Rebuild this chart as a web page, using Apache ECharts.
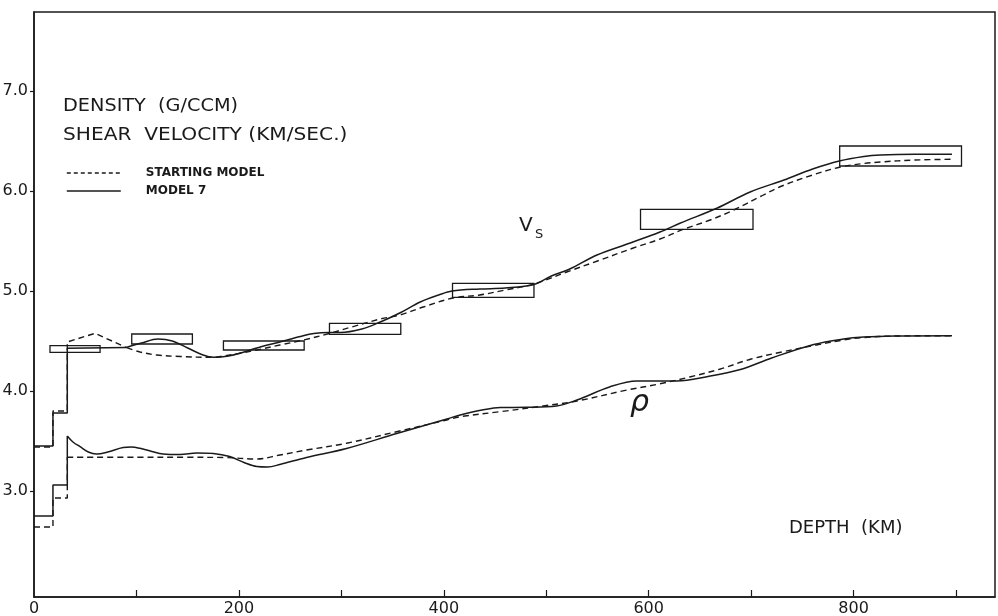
<!DOCTYPE html>
<html>
<head>
<meta charset="utf-8">
<script src="https://cdn.jsdelivr.net/npm/echarts@6/dist/echarts.min.js"></script>
<style>
html,body{margin:0;padding:0;background:#fff;}
#chart{width:998px;height:616px;}
</style>
</head>
<body>
<div id="chart"></div>
<script>
// ---- data (depth km, value) ----
const xTickValues = [100, 200, 300, 400, 500, 600, 700, 800, 900];
const xLabelValues = [0, 200, 400, 600, 800];
const yTickValues = [3, 4, 5, 6, 7];

// Shear velocity, starting model (dashed)
const vsStartStep = [[0,3.44],[18.5,3.44],[18.5,3.80],[32.5,3.80],[32.5,4.49],[59.6,4.577],[90.5,4.433]];
const vsStartCurve = [[90.5,4.433],[103.5,4.39],[120,4.36],[142.6,4.345],[175,4.337],[185,4.35],[200,4.375],[217.5,4.41],[240,4.46],[263,4.51],[289,4.577],[310,4.64],[338,4.72],[357,4.76],[380,4.84],[409,4.93],[435,4.96],[460,5.01],[488,5.07],[520,5.19],[550,5.30],[585,5.43],[611,5.52],[634,5.617],[660,5.71],[683,5.81],[710,5.95],[730,6.05],[760,6.16],[787,6.24],[810,6.275],[826,6.29],[860,6.31],[896,6.317]];
// Shear velocity, model 7 (solid)
const vsModelStep = [[0,3.45],[18.5,3.45],[18.5,3.78],[32.5,3.78],[32.5,4.427],[90,4.435]];
const vsModelCurve = [[90,4.435],[105,4.48],[121,4.52],[135,4.50],[150,4.43],[165,4.36],[175,4.337],[190,4.35],[205,4.39],[217.5,4.43],[240,4.49],[260,4.545],[273,4.575],[288,4.585],[299,4.585],[320,4.62],[338,4.69],[357,4.78],[377,4.89],[395,4.96],[408,5.0],[435,5.02],[460,5.03],[488,5.065],[505,5.15],[523,5.22],[549.5,5.36],[582,5.48],[611,5.59],[631,5.68],[667,5.83],[699,5.99],[732,6.11],[760,6.22],[786,6.30],[810,6.345],[826,6.36],[860,6.367],[896,6.367]];
// Density, starting model (dashed)
const rhoStartStep = [[0,2.64],[18.5,2.64],[18.5,2.93],[32.5,2.93],[32.5,3.337]];
const rhoStartCurve = [[32.5,3.337],[100,3.337],[150,3.337],[185,3.335],[217,3.32],[240,3.36],[266,3.41],[305,3.477],[354,3.593],[403,3.71],[416,3.743],[455,3.793],[497,3.85],[530,3.90],[579,4.01],[610,4.07],[640,4.14],[670,4.22],[700,4.32],[730,4.39],[761,4.455],[790,4.51],[810,4.535],[840,4.55],[896,4.553]];
// Density, model 7 (solid)
const rhoModelStep = [[0,2.75],[18.5,2.75],[18.5,3.06],[32.5,3.06],[32.5,3.55]];
const rhoModelCurve = [[32.5,3.55],[38,3.49],[45,3.443],[53,3.39],[61,3.37],[72,3.39],[87,3.435],[95,3.44],[103.5,3.427],[115,3.395],[126,3.37],[142.6,3.365],[159,3.38],[175,3.375],[191,3.345],[205,3.285],[217.5,3.245],[228,3.24],[240,3.265],[266,3.335],[305,3.425],[354,3.575],[403,3.72],[416,3.76],[440,3.815],[455,3.835],[481,3.837],[510,3.85],[530,3.91],[562.5,4.043],[588.5,4.10],[627.6,4.10],[657,4.143],[689.5,4.215],[720,4.33],[761,4.465],[790,4.52],[810,4.54],[840,4.55],[896,4.553]];

// Velocity bounds (boxes): depth from/to, velocity low/high
const boxDepthFrom = [15.6, 95.4, 184.9, 288.4, 408.5, 592, 786.4];
const boxDepthTo   = [64.5, 154.6, 263.7, 358, 488, 701.8, 905.3];
const boxVelLow    = [4.386, 4.47, 4.41, 4.567, 4.937, 5.617, 6.25];
const boxVelHigh   = [4.453, 4.57, 4.50, 4.677, 5.077, 5.817, 6.45];

const boxData = boxDepthFrom.map((d, i) => [d, boxDepthTo[i], boxVelLow[i], boxVelHigh[i]]);

const FONT = 'DejaVu Sans';
const INK = '#1a1a1a';
const dashed = {color: INK, width: 1.4, type: [6, 4]};
const solid = {color: INK, width: 1.5, type: 'solid'};

function lineSeries(name, data, style, smooth) {
  return {
    name: name, type: 'line', data: data, symbol: 'none', showSymbol: false,
    smooth: smooth ? 0.35 : false, lineStyle: style, itemStyle: {color: INK},
    silent: true, z: 3
  };
}

const chart = echarts.init(document.getElementById('chart'), null, {renderer: 'canvas'});
chart.setOption({
  animation: false,
  backgroundColor: '#fff',
  grid: {left: 34, right: 3, top: 12, bottom: 19, show: true, borderColor: INK, borderWidth: 1.5, outerBoundsMode: 'none'},
  xAxis: {
    type: 'value', min: 0, max: 938,
    axisLine: {show: true, onZero: false, lineStyle: {color: INK, width: 1.5}},
    axisTick: {show: true, inside: true, length: 7, customValues: xTickValues, lineStyle: {color: INK, width: 1.2}},
    axisLabel: {customValues: xLabelValues, color: INK, fontFamily: FONT, fontSize: 16, margin: 4},
    splitLine: {show: false}
  },
  yAxis: {
    type: 'value', min: 1.94, max: 7.79,
    axisLine: {show: true, onZero: false, lineStyle: {color: INK, width: 1.5}},
    axisTick: {show: true, inside: false, length: 4, customValues: yTickValues, lineStyle: {color: INK, width: 1.2}},
    axisLabel: {customValues: yTickValues, color: INK, fontFamily: FONT, fontSize: 16, margin: 6,
      formatter: v => v.toFixed(1)},
    splitLine: {show: false}
  },
  legend: {
    data: [
      {name: 'STARTING MODEL', lineStyle: {type: [4, 3], width: 1.4}},
      {name: 'MODEL 7', lineStyle: {width: 1.6}}
    ],
    orient: 'vertical', left: 61, top: 162, itemWidth: 54, itemHeight: 12, itemGap: 6,
    selectedMode: false,
    itemStyle: {opacity: 0},
    textStyle: {fontFamily: FONT, fontSize: 12, fontWeight: 'bold', color: INK, padding: [0, 0, 0, 20]}
  },
  graphic: [
    {type: 'text', x: 63, y: 97, scaleX: 1.07, style: {text: 'DENSITY  (G/CCM)', font: '18px "DejaVu Sans"', fill: INK}},
    {type: 'text', x: 63, y: 126, scaleX: 1.12, style: {text: 'SHEAR  VELOCITY (KM/SEC.)', font: '18px "DejaVu Sans"', fill: INK}},
    {type: 'text', x: 519, y: 216, style: {text: 'V', font: '20px "DejaVu Sans"', fill: INK}},
    {type: 'text', x: 535, y: 228, style: {text: 'S', font: '13px "DejaVu Sans"', fill: INK}},
    {type: 'text', x: 630, y: 388, style: {text: 'ρ', font: 'italic 30px "DejaVu Sans"', fill: INK}},
    {type: 'text', x: 789, y: 519, style: {text: 'DEPTH  (KM)', font: '18px "DejaVu Sans"', fill: INK}}
  ],
  series: [
    lineSeries('STARTING MODEL', vsStartStep, dashed, false),
    lineSeries('STARTING MODEL', vsStartCurve, dashed, true),
    lineSeries('STARTING MODEL', rhoStartStep, dashed, false),
    lineSeries('STARTING MODEL', rhoStartCurve, dashed, true),
    lineSeries('MODEL 7', vsModelStep, solid, false),
    lineSeries('MODEL 7', vsModelCurve, solid, true),
    lineSeries('MODEL 7', rhoModelStep, solid, false),
    lineSeries('MODEL 7', rhoModelCurve, solid, true),
    {
      name: 'bounds', type: 'custom', data: boxData, silent: true, z: 2,
      encode: {x: [0, 1], y: [2, 3]},
      renderItem: function (params, api) {
        const p0 = api.coord([api.value(0), api.value(3)]);
        const p1 = api.coord([api.value(1), api.value(2)]);
        return {
          type: 'rect',
          shape: {x: p0[0], y: p0[1], width: p1[0] - p0[0], height: p1[1] - p0[1]},
          style: {fill: 'none', stroke: INK, lineWidth: 1.3}
        };
      }
    }
  ]
});
</script>
</body>
</html>
